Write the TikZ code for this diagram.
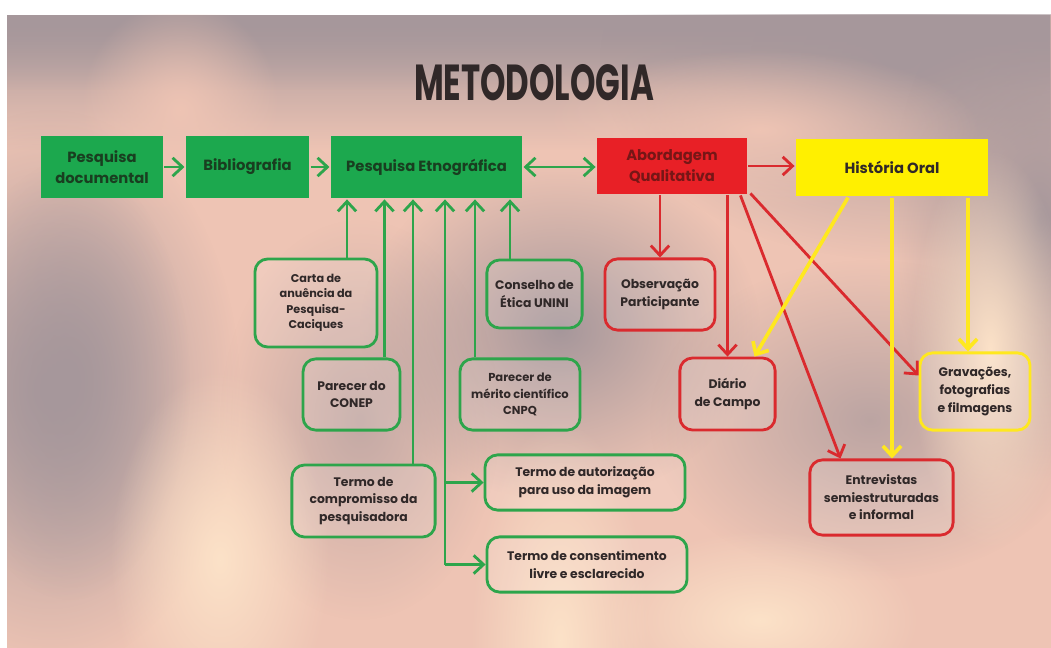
\documentclass[tikz,border=0pt]{standalone}
\usepackage{fontspec}
\setmainfont{Poppins}
\usepackage{xcolor}
\usepackage{graphicx}
\usepackage{tikz}
\usetikzlibrary{calc,arrows.meta,fadings}

\definecolor{verde}{RGB}{28,168,78}
\definecolor{verdetxt}{RGB}{25,62,32}
\definecolor{verdelin}{RGB}{45,165,75}
\definecolor{vermelho}{RGB}{232,32,38}
\definecolor{vermtxt}{RGB}{118,22,22}
\definecolor{vermlin}{RGB}{218,42,46}
\definecolor{amarelo}{RGB}{255,240,0}
\definecolor{amarlin}{RGB}{255,232,30}
\definecolor{fundo}{RGB}{238,196,180}
\definecolor{cinza}{RGB}{166,151,155}
\definecolor{claro}{RGB}{252,226,200}
\definecolor{texto}{RGB}{48,40,40}
\tikzfading[name=suave,inner color=transparent!0,outer color=transparent!100]
\tikzfading[name=topo,top color=transparent!0,bottom color=transparent!100]

\begin{document}
\begin{tikzpicture}[x=0.025cm,y=-0.025cm,line width=2pt,
	>={Straight Barb[length=7pt,width=13pt]},
	mancha/.style={fill=#1,path fading=suave},
	cheio/.style={draw=none,fill=#1,align=center,inner sep=2pt,font=\fontsize{10.5}{15}\selectfont\bfseries},
	contorno/.style={draw=#1,rounded corners=9pt,line width=2pt,fill=white,fill opacity=0.12,text opacity=1,
		align=center,inner sep=2pt,text=texto,font=\fontsize{8.8}{12.5}\selectfont\bfseries},
	setav/.style={->,verdelin},
	setar/.style={->,vermlin},
	setaa/.style={->,amarlin,line width=2.6pt}]
			\useasboundingbox (0,0) rectangle (1051,648);
			% % % % % % % % % % % % % % %
			%背景
			\begin{scope}
			\clip (7,15) rectangle (1051,648);
			\fill[fundo] (7,15) rectangle (1051,648);
			\fill[cinza,path fading=topo] (7,15) rectangle (1051,150);
			\fill[cinza,path fading=topo] (7,15) rectangle (1051,90);
			\fill[mancha=cinza] (900,60) ellipse (300 and 200);
			\fill[mancha=cinza] (1040,220) ellipse (150 and 260);
			\fill[mancha=cinza] (50,390) ellipse (190 and 280);
			\fill[mancha=cinza] (70,380) ellipse (120 and 220);
			\fill[mancha=cinza] (560,330) ellipse (200 and 170);
			\fill[mancha=cinza,opacity=0.7] (870,420) ellipse (220 and 160);
			\fill[mancha=cinza,opacity=0.6] (360,420) ellipse (140 and 200);
			\fill[mancha=fundo] (180,110) ellipse (100 and 110);
			\fill[mancha=fundo] (760,130) ellipse (220 and 80);
			\fill[mancha=claro] (560,640) ellipse (90 and 220);
			\fill[mancha=claro] (220,560) ellipse (110 and 190);
			\fill[mancha=claro] (990,350) ellipse (80 and 200);
			\fill[mancha=claro] (760,620) ellipse (160 and 90);
			\end{scope}
			%标题
			\node[text=texto,font=\fontsize{36}{36}\selectfont\bfseries] (titulo) at (534,83) {\scalebox{0.64}[1]{METODOLOGIA}};
			%上面一行
			\node[cheio=verde,text=verdetxt,minimum width=3.05cm,minimum height=1.55cm] (doc) at (102,167) {Pesquisa\\documental};
			\node[cheio=verde,text=verdetxt,minimum width=3.08cm,minimum height=1.55cm] (bib) at (247.5,167) {Bibliografia};
			\node[cheio=verde,text=verdetxt,minimum width=4.78cm,minimum height=1.55cm] (etn) at (426.5,167) {Pesquisa Etnográfica};
			\node[cheio=vermelho,text=vermtxt,minimum width=3.75cm,minimum height=1.4cm] (abord) at (672,166) {Abordagem\\Qualitativa};
			\node[cheio=amarelo,text=texto,minimum width=4.8cm,minimum height=1.43cm] (hist) at (892,167.5) {História Oral};
			%绿色方框
			\node[contorno=verdelin,minimum width=3.05cm,minimum height=2.2cm,font=\fontsize{8}{11}\selectfont\bfseries] (carta) at (316,303) {Carta de\\anuência da\\Pesquisa-\\Caciques};
			\node[contorno=verdelin,minimum width=2.42cm,minimum height=1.78cm] (conep) at (351.5,394.5) {Parecer do\\CONEP};
			\node[contorno=verdelin,minimum width=3.58cm,minimum height=1.8cm] (compr) at (363.5,501) {Termo de\\compromisso da\\pesquisadora};
			\node[contorno=verdelin,minimum width=2.38cm,minimum height=1.7cm] (conselho) at (534.5,294) {Conselho de\\Ética UNINI};
			\node[contorno=verdelin,minimum width=3cm,minimum height=1.78cm,font=\fontsize{8.2}{12}\selectfont\bfseries] (merito) at (520,394.5) {Parecer de\\mérito científico\\CNPQ};
			\node[contorno=verdelin,minimum width=5cm,minimum height=1.38cm] (autor) at (585,482.5) {Termo de autorização\\para uso da imagem};
			\node[contorno=verdelin,minimum width=5cm,minimum height=1.38cm] (consent) at (587,564.5) {Termo de consentimento\\livre e esclarecido};
			%红色方框
			\node[contorno=vermlin,minimum width=2.75cm,minimum height=1.78cm] (obs) at (660,294.5) {Observação\\Participante};
			\node[contorno=vermlin,minimum width=2.38cm,minimum height=1.8cm] (diario) at (727.5,394) {Diário\\de Campo};
			\node[contorno=vermlin,minimum width=3.58cm,minimum height=1.88cm] (entrev) at (881.5,497.5) {Entrevistas\\semiestruturadas\\e informal};
			\node[contorno=amarlin,minimum width=2.75cm,minimum height=1.93cm] (grav) at (975,391.5) {Gravações,\\fotografias\\e filmagens};
			%横向箭头
			\draw[setav] (doc) -- (bib);
			\draw[setav] (bib) -- (etn);
			\draw[setav,<->] (etn.east) -- (etn.east -| abord.west);
			\draw[setar] (abord.east) -- (abord.east -| hist.west);
			%往上的箭头
			\foreach \n/\dx in {carta/31,conep/33,compr/49.5,merito/-45,conselho/-24.5} {
			\draw[setav] ($(\n.north)+(\dx,0)$) coordinate (p) -- (p |- etn.south);
			}
			\coordinate (tronco) at (445,0);
			\draw[setav] (tronco |- consent.west) -- (tronco |- etn.south);
			\draw[setav] (tronco |- autor.west) -- (autor.west);
			\draw[setav] (tronco |- consent.west) -- (consent.west);
			%红色箭头
			\draw[setar] (abord.south -| obs.north) -- (obs.north);
			\draw[setar] (abord.south -| diario.north) -- (diario.north);
			\draw[setar] ($(abord.south east)+(-8,0)$) -- ($(entrev.north west)+(32,0)$);
			\draw[setar] ($(abord.south east)+(2,-2)$) -- ($(grav.west)+(0,-16)$);
			%黄色箭头
			\draw[setaa] ($(hist.south)+(-44,0)$) -- ($(diario.north east)+(-22,0)$);
			\draw[setaa] (hist.south) -- (hist.south |- entrev.north);
			\draw[setaa] ($(hist.south)+(76,0)$) coordinate (q) -- (q |- grav.north);
		\end{tikzpicture}
\end{document}
